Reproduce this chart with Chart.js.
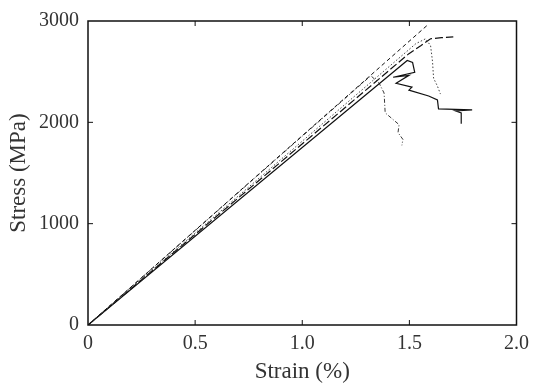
<!DOCTYPE html>
<html>
<head>
<meta charset="utf-8">
<script src="https://cdn.jsdelivr.net/npm/chart.js@4"></script>
<style>
  body { margin: 0; background: #fff; }
  #wrap { width: 536px; height: 386px; }
</style>
</head>
<body>
<div id="wrap"><canvas id="myChart"></canvas></div>
<script>
// tick values
const xTicks = [0, 0.5, 1.0, 1.5, 2.0];
const yTicks = [0, 1000, 2000, 3000];

// specimen curves, strain (%) / stress (MPa)
const strainA = [0, 1.59];
const stressA = [0, 2970];

const strainB = [0, 1.53, 1.576, 1.599, 1.608, 1.613, 1.631, 1.645];
const stressB = [0, 2776, 2825, 2756, 2600, 2435, 2357, 2279];

const strainC = [0, 1.498, 1.553, 1.599, 1.65, 1.705];
const stressC = [0, 2678, 2756, 2825, 2835, 2844];

const strainD = [0, 1.49, 1.515, 1.525, 1.424, 1.498, 1.438, 1.512, 1.498, 1.59, 1.631, 1.636, 1.793, 1.714, 1.742, 1.742];
const stressD = [0, 2610, 2590, 2493, 2445, 2464, 2386, 2347, 2318, 2260, 2221, 2133, 2123, 2114, 2094, 1987];

const strainE = [0, 1.32, 1.359, 1.382, 1.387, 1.452, 1.447, 1.47, 1.465];
const stressE = [0, 2460, 2386, 2289, 2094, 1977, 1899, 1831, 1773];

const pts = (xs, ys) => xs.map((x, i) => ({ x: x, y: ys[i] }));

const serif = 'Liberation Serif, Times New Roman, serif';

// box around the plot and inward tick marks
const frame = {
    id: 'frame',
    afterDraw(chart) {
        const { ctx, chartArea: a, scales: { x, y } } = chart;
        ctx.save();
        ctx.strokeStyle = '#111';
        ctx.lineWidth = 1.5;
        ctx.strokeRect(a.left, a.top, a.right - a.left, a.bottom - a.top);
        ctx.lineWidth = 1;
        ctx.beginPath();
        xTicks.slice(1, -1).forEach(v => {
            const px = x.getPixelForValue(v);
            ctx.moveTo(px, a.bottom); ctx.lineTo(px, a.bottom - 5);
            ctx.moveTo(px, a.top); ctx.lineTo(px, a.top + 5);
        });
        yTicks.slice(1, -1).forEach(v => {
            const py = y.getPixelForValue(v);
            ctx.moveTo(a.left, py); ctx.lineTo(a.left + 5, py);
            ctx.moveTo(a.right, py); ctx.lineTo(a.right - 5, py);
        });
        ctx.stroke();
        ctx.restore();
    }
};

const line = (data, dash, width, color) => ({
    data: data,
    showLine: true,
    fill: false,
    tension: 0,
    borderColor: color,
    borderWidth: width,
    borderDash: dash,
    pointRadius: 0
});

new Chart("myChart", {
    type: "scatter",
    data: {
        datasets: [
            line(pts(strainA, stressA), [4, 3], 1, '#111'),
            line(pts(strainB, stressB), [1.5, 2], 1, '#444'),
            line(pts(strainC, stressC), [8, 3], 1.2, '#111'),
            line(pts(strainD, stressD), [], 1.2, '#111'),
            line(pts(strainE, stressE), [4, 2, 1, 2], 0.9, '#222')
        ]
    },
    options: {
        responsive: true,
        maintainAspectRatio: false,
        animation: false,
        layout: { padding: { top: 17, right: 14, left: 0, bottom: 0 } },
        plugins: {
            legend: { display: false },
            tooltip: { enabled: false }
        },
        scales: {
            x: {
                type: 'linear',
                min: 0,
                max: 2,
                afterFit: s => { s.height = 61; },
                afterBuildTicks: s => { s.ticks = xTicks.map(v => ({ value: v })); },
                grid: { display: false, drawTicks: false },
                border: { display: false },
                title: {
                    display: true,
                    text: 'Strain (%)',
                    font: { family: serif, size: 23 },
                    color: '#333',
                    padding: { top: 0, bottom: 0 }
                },
                ticks: {
                    padding: 7,
                    maxRotation: 0,
                    color: '#333',
                    font: { family: serif, size: 20 },
                    callback: v => v === 0 ? '0' : v.toFixed(1)
                }
            },
            y: {
                min: 0,
                max: 3000,
                afterFit: s => { s.width = 88; },
                afterBuildTicks: s => { s.ticks = yTicks.map(v => ({ value: v })); },
                grid: { display: false, drawTicks: false },
                border: { display: false },
                title: {
                    display: true,
                    text: 'Stress (MPa)',
                    font: { family: serif, size: 23 },
                    color: '#333',
                    padding: { top: 5, bottom: 0 }
                },
                ticks: {
                    padding: 9,
                    color: '#333',
                    font: { family: serif, size: 20 },
                    callback: v => String(v)
                }
            }
        }
    },
    plugins: [frame]
});
</script>
</body>
</html>
